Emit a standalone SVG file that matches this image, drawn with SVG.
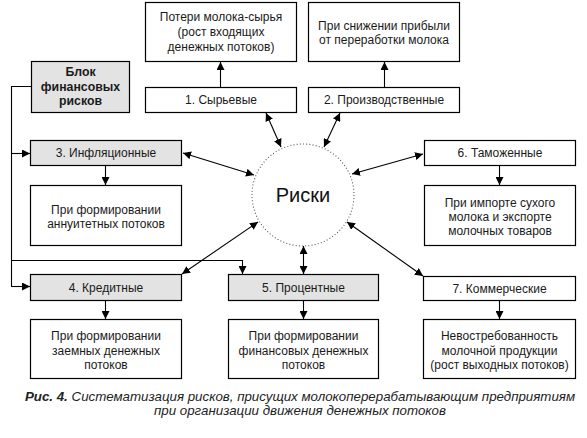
<svg xmlns="http://www.w3.org/2000/svg" width="587" height="438" viewBox="0 0 587 438">
<defs>
<style>
.box{fill:#fff;stroke:#000;stroke-width:1.2}
.g{fill:#e3e3e3;stroke:#000;stroke-width:1.2}
.t{font-family:"Liberation Sans",Arial,sans-serif;font-size:12px;fill:#1a1a1a;text-anchor:middle}
.b{font-weight:bold;font-size:12.3px}
.ln{fill:none;stroke:#000;stroke-width:1.1}
.a{marker-end:url(#ah)}
.d{marker-start:url(#ah);marker-end:url(#ah)}
.cap{font-family:"Liberation Sans",Arial,sans-serif;font-size:13.3px;font-style:italic;fill:#222;text-anchor:middle}
</style>
<marker id="ah" viewBox="0 0 10 10" refX="10" refY="5" markerWidth="8" markerHeight="8" markerUnits="userSpaceOnUse" orient="auto-start-reverse">
<path d="M0,0 L10,5 L0,10 z" fill="#000"/>
</marker>
</defs>
<rect width="587" height="438" fill="#fff"/>

<g id="connectors">
<line class="ln a" x1="220.5" y1="87" x2="220.5" y2="62"/>
<line class="ln a" x1="384.5" y1="87" x2="384.5" y2="62"/>
<polyline class="ln" points="31,86.5 11.5,86.5 11.5,286.5"/>
<line class="ln a" x1="11.5" y1="153.5" x2="30" y2="153.5"/>
<line class="ln a" x1="11" y1="286.5" x2="30" y2="286.5"/>
<polyline class="ln a" points="11.5,260.5 242.5,260.5 242.5,274"/>
<line class="ln a" x1="105.5" y1="166" x2="105.5" y2="185"/>
<line class="ln a" x1="105.5" y1="301" x2="105.5" y2="319"/>
<line class="ln a" x1="303.5" y1="301" x2="303.5" y2="319"/>
<line class="ln a" x1="499.5" y1="166" x2="499.5" y2="185"/>
<line class="ln a" x1="499.5" y1="301" x2="499.5" y2="319"/>
<line class="ln d" x1="266" y1="113" x2="281" y2="147"/>
<line class="ln d" x1="340" y1="113" x2="324" y2="147"/>
<line class="ln d" x1="183" y1="153" x2="254" y2="175"/>
<line class="ln d" x1="423" y1="154" x2="352" y2="174"/>
<line class="ln d" x1="258" y1="222" x2="182" y2="274"/>
<line class="ln d" x1="303.5" y1="246" x2="303.5" y2="274"/>
<line class="ln d" x1="347" y1="222" x2="423" y2="276"/>
</g>

<g id="center">
<circle cx="303" cy="195" r="51" fill="#fff" stroke="#555" stroke-width="1.1" stroke-dasharray="1 2.2"/>
<text x="303" y="202" font-family="Liberation Sans,Arial,sans-serif" font-size="20" fill="#111" text-anchor="middle">Риски</text>
</g>

<g id="desc1">
<rect class="box" x="145.5" y="2.5" width="151" height="59"/>
<text class="t" x="221" y="21">Потери молока-сырья</text>
<text class="t" x="221" y="36">(рост входящих</text>
<text class="t" x="221" y="51">денежных потоков)</text>
</g>
<g id="desc2">
<rect class="box" x="308.5" y="2.5" width="151" height="59"/>
<text class="t" x="384" y="30">При снижении прибыли</text>
<text class="t" x="384" y="44">от переработки молока</text>
</g>
<g id="risk1">
<rect class="box" x="145.5" y="87.5" width="151" height="25"/>
<text class="t" x="221" y="104">1. Сырьевые</text>
</g>
<g id="risk2">
<rect class="box" x="308.5" y="87.5" width="151" height="25"/>
<text class="t" x="384" y="104">2. Производственные</text>
</g>
<g id="block">
<rect class="g" x="31.5" y="61.5" width="98" height="51"/>
<text class="t b" x="80.5" y="76">Блок</text>
<text class="t b" x="80.5" y="90.5">финансовых</text>
<text class="t b" x="80.5" y="105">рисков</text>
</g>
<g id="risk3">
<rect class="g" x="30.5" y="140.5" width="151" height="25"/>
<text class="t" x="106" y="157">3. Инфляционные</text>
</g>
<g id="desc3">
<rect class="box" x="30.5" y="185.5" width="151" height="60"/>
<text class="t" x="106" y="214">При формировании</text>
<text class="t" x="106" y="228">аннуитетных потоков</text>
</g>
<g id="risk4">
<rect class="g" x="30.5" y="274.5" width="151" height="26"/>
<text class="t" x="106" y="291.5">4. Кредитные</text>
</g>
<g id="desc4">
<rect class="box" x="30.5" y="319.5" width="151" height="59"/>
<text class="t" x="106" y="340">При формировании</text>
<text class="t" x="106" y="354.5">заемных денежных</text>
<text class="t" x="106" y="369">потоков</text>
</g>
<g id="risk5">
<rect class="g" x="228.5" y="274.5" width="150" height="26"/>
<text class="t" x="303.5" y="291.5">5. Процентные</text>
</g>
<g id="desc5">
<rect class="box" x="228.5" y="319.5" width="150" height="59"/>
<text class="t" x="303.5" y="340">При формировании</text>
<text class="t" x="303.5" y="354.5">финансовых денежных</text>
<text class="t" x="303.5" y="369">потоков</text>
</g>
<g id="risk6">
<rect class="box" x="424.5" y="140.5" width="151" height="25"/>
<text class="t" x="500" y="157">6. Таможенные</text>
</g>
<g id="desc6">
<rect class="box" x="424.5" y="185.5" width="151" height="60"/>
<text class="t" x="500" y="207">При импорте сухого</text>
<text class="t" x="500" y="221">молока и экспорте</text>
<text class="t" x="500" y="235">молочных товаров</text>
</g>
<g id="risk7">
<rect class="box" x="423.5" y="276.5" width="152" height="24"/>
<text class="t" x="499.5" y="292.5">7. Коммерческие</text>
</g>
<g id="desc7">
<rect class="box" x="423.5" y="319.5" width="152" height="59"/>
<text class="t" x="499.5" y="340">Невостребованность</text>
<text class="t" x="499.5" y="354.5">молочной продукции</text>
<text class="t" x="499.5" y="369">(рост выходных потоков)</text>
</g>

<g id="caption">
<text class="cap" x="300" y="401"><tspan font-weight="bold">Рис. 4.</tspan> Систематизация рисков, присущих молокоперерабатывающим предприятиям</text>
<text class="cap" x="300" y="415">при организации движения денежных потоков</text>
</g>
</svg>
